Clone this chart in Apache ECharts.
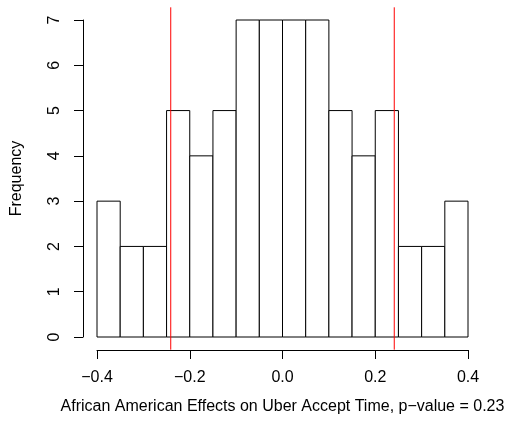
<!DOCTYPE html>
<html>
<head>
<meta charset="utf-8">
<script src="https://cdn.jsdelivr.net/npm/echarts@6/dist/echarts.min.js"></script>
<style>
  html, body { margin: 0; padding: 0; background: #fff; }
  #hist_chart { width: 506px; height: 435px; }
</style>
</head>
<body>
<div id="hist_chart"></div>
<script>
// histogram bins (width 0.05) and counts
var bin_starts = [-0.40, -0.35, -0.30, -0.25, -0.20, -0.15, -0.10, -0.05, 0.00, 0.05, 0.10, 0.15, 0.20, 0.25, 0.30, 0.35];
var bin_counts = [3, 2, 2, 5, 4, 5, 7, 7, 7, 7, 5, 4, 5, 2, 2, 3];
var bin_width = 0.05;
// red reference lines
var cut_lines = [-0.241, 0.241];
// tick labels
var x_ticks = [-0.4, -0.2, 0.0, 0.2, 0.4];
var x_tick_labels = ['\u22120.4', '\u22120.2', '0.0', '0.2', '0.4'];
var y_max = 7;

var font = 'Liberation Sans, Arial, Helvetica, sans-serif';
var chart = echarts.init(document.getElementById('hist_chart'));

var bar_data = [];
for (var i = 0; i < bin_starts.length; i++) {
    bar_data.push([bin_starts[i], bin_starts[i] + bin_width, bin_counts[i]]);
}
var line_data = cut_lines.map(function (v) { return [v]; });
var y_ext = y_max * 0.04; // R extends plot region 4%

var option = {
    animation: false,
    backgroundColor: '#fff',
    grid: { left: 97, right: 38, top: 20, bottom: 98, containLabel: false, outerBoundsMode: 'none' },
    xAxis: {
        type: 'value',
        min: -0.4,
        max: 0.4,
        interval: 0.2,
        offset: 13,
        name: 'African American Effects on Uber Accept Time, p\u2212value = 0.23',
        nameLocation: 'middle',
        nameGap: 49,
        nameTextStyle: { color: '#000', fontSize: 16, fontFamily: font },
        splitLine: { show: false },
        axisLine: { show: true, onZero: false, lineStyle: { color: '#000', width: 1 } },
        axisTick: { show: true, length: 9, lineStyle: { color: '#000' } },
        axisLabel: {
            color: '#000', fontSize: 16, fontFamily: font, margin: 20,
            formatter: function (val) {
                for (var k = 0; k < x_ticks.length; k++) {
                    if (Math.abs(x_ticks[k] - val) < 1e-9) return x_tick_labels[k];
                }
                return '';
            }
        }
    },
    yAxis: {
        type: 'value',
        min: 0,
        max: y_max,
        interval: 1,
        offset: 14,
        name: 'Frequency',
        nameLocation: 'middle',
        nameRotate: 90,
        nameGap: 58,
        nameTextStyle: { color: '#000', fontSize: 16, fontFamily: font },
        splitLine: { show: false },
        axisLine: { show: true, onZero: false, lineStyle: { color: '#000', width: 1 } },
        axisTick: { show: true, length: 9, lineStyle: { color: '#000' } },
        axisLabel: { color: '#000', fontSize: 16, fontFamily: font, rotate: 90, margin: 20 }
    },
    series: [
        {
            type: 'custom',
            data: bar_data,
            encode: { x: [0, 1], y: 2 },
            renderItem: function (params, api) {
                var p0 = api.coord([api.value(0), 0]);
                var p1 = api.coord([api.value(1), api.value(2)]);
                return {
                    type: 'rect',
                    shape: { x: p0[0], y: p1[1], width: p1[0] - p0[0], height: p0[1] - p1[1] },
                    style: { fill: '#fff', stroke: '#000', lineWidth: 1 }
                };
            }
        },
        {
            type: 'custom',
            data: line_data,
            encode: { x: 0 },
            clip: false,
            z: 5,
            renderItem: function (params, api) {
                var a = api.coord([api.value(0), -y_ext]);
                var b = api.coord([api.value(0), y_max + y_ext]);
                return {
                    type: 'line',
                    shape: { x1: a[0], y1: a[1], x2: b[0], y2: b[1] },
                    style: { stroke: '#ff0000', lineWidth: 1 }
                };
            }
        }
    ]
};
chart.setOption(option);
</script>
</body>
</html>
